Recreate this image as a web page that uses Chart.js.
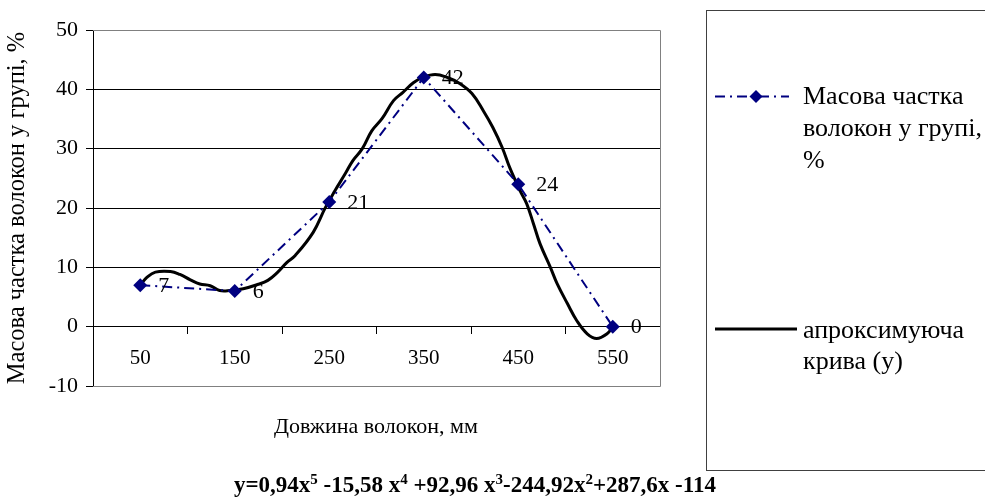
<!DOCTYPE html>
<html>
<head>
<meta charset="utf-8">
<script src="https://cdn.jsdelivr.net/npm/chart.js@4/dist/chart.umd.min.js"></script>
<style>
html,body{margin:0;padding:0;background:#fff;}
#wrap{position:relative;width:985px;height:500px;}
</style>
</head>
<body>
<div id="wrap"><canvas id="c" width="985" height="500"></canvas></div>
<script>
// ---- data ----
const categories = ['50', '150', '250', '350', '450', '550'];
const massShare = [7, 6, 21, 42, 24, 0];
const yTicks = [-10, 0, 10, 20, 30, 40, 50];
// approximating curve (x in mm, y in %)
const curveX = [50, 57, 66, 82, 92, 103, 113, 124, 134, 145, 159, 174, 185, 195, 205, 214, 233, 246, 256, 267, 275, 285, 295, 306, 318, 328, 339, 349, 362, 375, 388, 401, 413, 423, 433, 441, 452, 459, 466, 473, 484, 491, 502, 512, 523, 533, 544, 550];
const curveY = [7, 8.3, 9.2, 9.3, 8.8, 7.9, 7.2, 6.9, 6.1, 6.1, 6.4, 7.1, 7.8, 9.1, 10.8, 12, 15.9, 20.1, 22.9, 25.8, 28, 30, 33, 35.1, 38.1, 39.5, 41.1, 42, 42.5, 42, 41, 39.3, 36.4, 33.6, 30.2, 26.8, 22.9, 20.7, 17.4, 14, 10, 7.3, 3.9, 1, -1.2, -2, -1.2, 0];
const seriesNames = ['Масова частка волокон у групі, %', 'апроксимуюча крива (у)'];
const legendLines1 = ['Масова частка', 'волокон у групі,', '%'];
const legendLines2 = ['апроксимуюча', 'крива (у)'];
const xTitle = 'Довжина волокон, мм';
const yTitle = 'Масова частка волокон у групі, %';
const equationParts = [['y=0,94x', false], ['5', true], [' -15,58 x', false], ['4', true], [' +92,96 x', false], ['3', true], ['-244,92x', false], ['2', true], ['+287,6x -114', false]];

const SERIF = '"Liberation Serif", "Times New Roman", serif';
const NAVY = '#000080';
const DASH = [10, 5, 2, 5];

const curvePoints = curveX.map((x, i) => ({x: x, y: curveY[i]}));

const extras = {
  id: 'extras',
  beforeDatasetsDraw(chart) {
    const ctx = chart.ctx, a = chart.chartArea;
    ctx.save();
    ctx.strokeStyle = '#808080';
    ctx.lineWidth = 1;
    ctx.beginPath();
    ctx.moveTo(a.left, Math.round(a.top) + 0.5);
    ctx.lineTo(Math.round(a.right) + 0.5, Math.round(a.top) + 0.5);
    ctx.lineTo(Math.round(a.right) + 0.5, Math.round(a.bottom) + 0.5);
    ctx.lineTo(a.left, Math.round(a.bottom) + 0.5);
    ctx.stroke();
    ctx.restore();
  },
  afterDatasetsDraw(chart) {
    const ctx = chart.ctx;
    const meta = chart.getDatasetMeta(0);
    ctx.save();
    ctx.fillStyle = '#000';
    ctx.font = '22px ' + SERIF;
    ctx.textAlign = 'left';
    ctx.textBaseline = 'middle';
    meta.data.forEach((pt, i) => {
      ctx.fillText(String(massShare[i]), pt.x + 18, pt.y + 1);
    });
    ctx.restore();
  },
  afterDraw(chart) {
    const ctx = chart.ctx;
    ctx.save();
    // legend box
    ctx.strokeStyle = '#404040';
    ctx.lineWidth = 1;
    ctx.strokeRect(706.5, 10.5, 300, 460);
    // entry 1
    ctx.strokeStyle = NAVY;
    ctx.lineWidth = 2;
    ctx.setLineDash(DASH);
    ctx.beginPath();
    ctx.moveTo(715, 96.5);
    ctx.lineTo(789, 96.5);
    ctx.stroke();
    ctx.setLineDash([]);
    ctx.fillStyle = NAVY;
    ctx.beginPath();
    ctx.moveTo(756, 90); ctx.lineTo(762.5, 96.5); ctx.lineTo(756, 103); ctx.lineTo(749.5, 96.5); ctx.closePath();
    ctx.fill();
    ctx.fillStyle = '#000';
    ctx.font = '26px ' + SERIF;
    ctx.textAlign = 'left';
    ctx.textBaseline = 'alphabetic';
    legendLines1.forEach((t, i) => ctx.fillText(t, 803, 104 + i * 32));
    // entry 2
    ctx.strokeStyle = '#000';
    ctx.lineWidth = 3;
    ctx.beginPath();
    ctx.moveTo(715, 329);
    ctx.lineTo(797, 329);
    ctx.stroke();
    legendLines2.forEach((t, i) => ctx.fillText(t, 803, 338 + i * 31));
    // x axis title
    ctx.font = '22px ' + SERIF;
    ctx.textAlign = 'center';
    ctx.fillText(xTitle, 376, 433);
    // equation
    const big = 'bold 23px ' + SERIF, small = 'bold 15px ' + SERIF;
    let total = 0;
    equationParts.forEach(([t, sup]) => { ctx.font = sup ? small : big; total += ctx.measureText(t).width; });
    let x = 475 - total / 2;
    ctx.textAlign = 'left';
    equationParts.forEach(([t, sup]) => {
      ctx.font = sup ? small : big;
      ctx.fillText(t, x, sup ? 484 : 492);
      x += ctx.measureText(t).width;
    });
    ctx.restore();
  }
};

new Chart(document.getElementById('c'), {
  type: 'line',
  data: {
    labels: categories,
    datasets: [
      {
        label: seriesNames[0],
        data: massShare,
        xAxisID: 'x',
        yAxisID: 'y',
        borderColor: NAVY,
        backgroundColor: NAVY,
        borderWidth: 2,
        borderDash: DASH,
        pointStyle: 'rectRot',
        pointRadius: 7,
        pointBorderWidth: 0,
        pointBackgroundColor: NAVY,
        tension: 0,
        fill: false
      },
      {
        label: seriesNames[1],
        data: curvePoints,
        xAxisID: 'x2',
        yAxisID: 'y',
        borderColor: '#000',
        borderWidth: 3,
        pointRadius: 0,
        tension: 0.4,
        fill: false
      }
    ]
  },
  options: {
    responsive: false,
    animation: false,
    layout: {padding: {left: 0, top: 30, right: 325, bottom: 114}},
    plugins: {legend: {display: false}, tooltip: {enabled: false}},
    scales: {
      x: {
        type: 'category',
        offset: true,
        position: {y: 0},
        grid: {display: true, drawOnChartArea: false, drawTicks: true, tickLength: 7, color: '#000', tickColor: '#000', offset: true},
        border: {display: true, color: '#000', width: 1},
        ticks: {color: '#000', font: {family: SERIF, size: 21}, padding: 12, maxRotation: 0, autoSkip: false}
      },
      x2: {
        type: 'linear',
        display: false,
        min: 0,
        max: 600
      },
      y: {
        type: 'linear',
        min: yTicks[0],
        max: yTicks[yTicks.length - 1],
        afterBuildTicks(scale) { scale.ticks = yTicks.map(v => ({value: v})); },
        afterFit(scale) { scale.width = 93; },
        grid: {
          color: c => (c.tick && (c.tick.value === 50 || c.tick.value === -10)) ? '#808080' : '#000',
          tickColor: '#000',
          tickLength: 7,
          lineWidth: 1
        },
        border: {display: true, color: '#000', width: 1},
        ticks: {color: '#000', font: {family: SERIF, size: 22}, padding: 8},
        title: {display: true, text: yTitle, color: '#000', font: {family: SERIF, size: 24.5}, padding: {top: 3, bottom: 0}}
      }
    }
  },
  plugins: [extras]
});
</script>
</body>
</html>
